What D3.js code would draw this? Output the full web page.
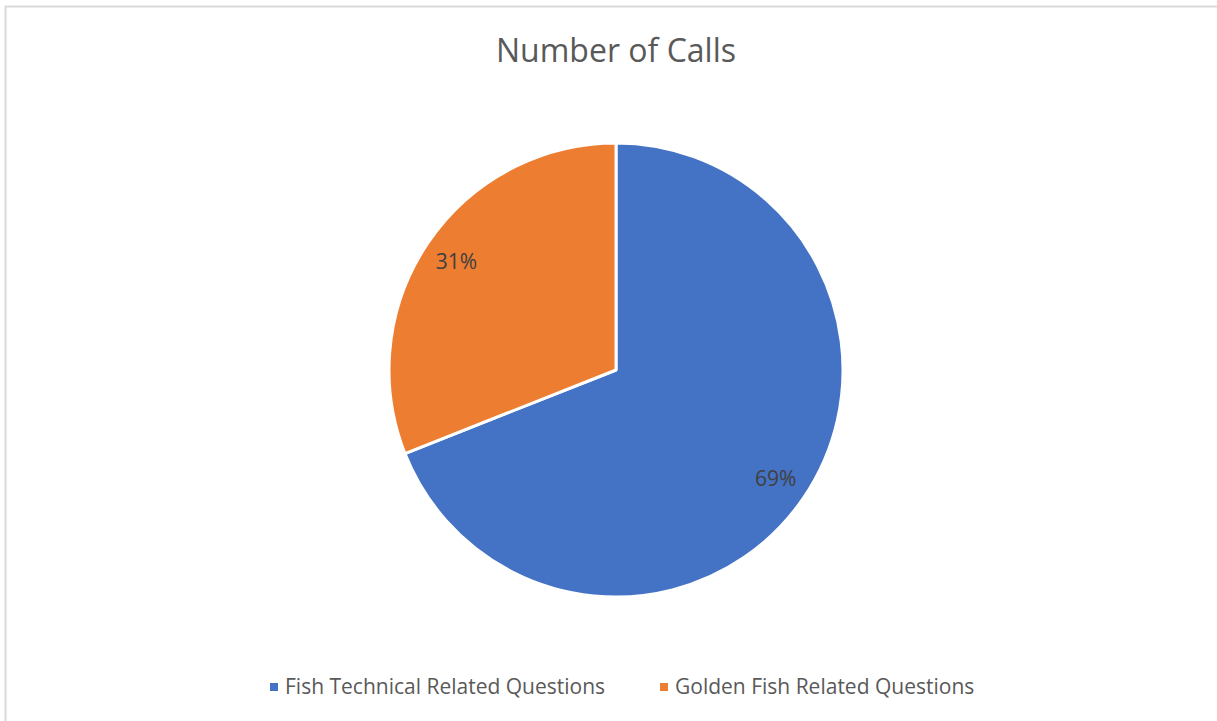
<!DOCTYPE html>
<html><head><meta charset="utf-8">
<script src="https://cdn.jsdelivr.net/npm/d3@7"></script>
<style>body{margin:0;background:#fff;}svg{display:block;font-family:"Open Sans","Liberation Sans",sans-serif;}</style>
</head><body>
<svg id="c" width="1217" height="721"></svg>
<script>
const categories = ["Fish Technical Related Questions", "Golden Fish Related Questions"];
const values = [69, 31];
const colors = ["#4472C4", "#ED7D31"];
const title = "Number of Calls";

const svg = d3.select("#c");
svg.append("rect").attr("x",5.5).attr("y",6.5).attr("width",1300).attr("height",800)
  .attr("fill","#fff").attr("stroke","#d9d9d9").attr("stroke-width",2);

svg.append("text").attr("x",616).attr("y",62).attr("text-anchor","middle")
  .attr("font-size",32).attr("fill","#595959").text(title);

const cx = 616, cy = 370, r = 227;
const pie = d3.pie().sort(null).value(d=>d)(values);
const arc = d3.arc().innerRadius(0).outerRadius(r);
const labelArc = d3.arc().innerRadius(r*0.85).outerRadius(r*0.85);
const g = svg.append("g").attr("transform",`translate(${cx},${cy})`);
g.selectAll("path").data(pie).join("path")
  .attr("d",arc).attr("fill",(d,i)=>colors[i])
  .attr("stroke","#fff").attr("stroke-width",3).attr("stroke-linejoin","round");
const total = d3.sum(values);
g.selectAll("text").data(pie).join("text")
  .attr("transform",d=>`translate(${labelArc.centroid(d)})`)
  .attr("text-anchor","middle").attr("dy","0.35em")
  .attr("font-size",21).attr("fill","#404040")
  .text(d=>Math.round(d.data/total*100)+"%");

const legendX = [270, 660];
const lg = svg.append("g");
categories.forEach((c,i)=>{
  lg.append("rect").attr("x",legendX[i]).attr("y",683).attr("width",8).attr("height",8).attr("fill",colors[i]);
  lg.append("text").attr("x",legendX[i]+15).attr("y",687).attr("dy","0.35em")
    .attr("font-size",21).attr("fill","#595959").text(c);
});
</script>
</body></html>
